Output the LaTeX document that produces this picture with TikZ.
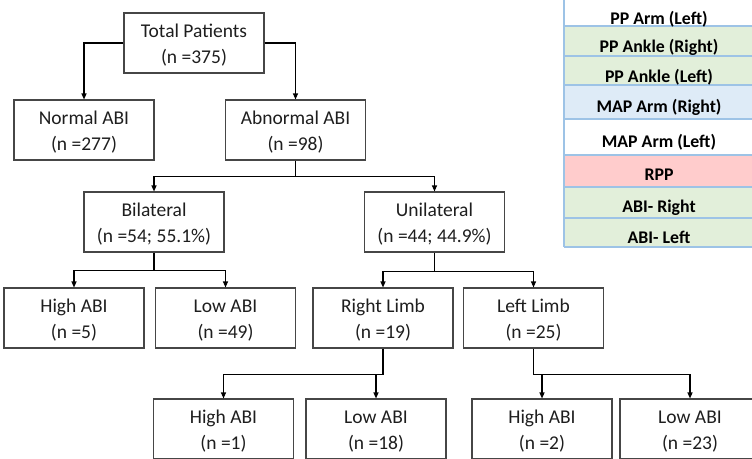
\documentclass[tikz,border=0pt]{standalone}
\usepackage{fontspec}
\setmainfont{Carlito}
\usetikzlibrary{arrows.meta,calc}
\definecolor{boxline}{RGB}{70,70,70}
\definecolor{txt}{RGB}{30,30,30}
\definecolor{tgreen}{RGB}{226,239,218}
\definecolor{tblue}{RGB}{222,235,247}
\definecolor{tpink}{RGB}{255,204,204}
\definecolor{tline}{RGB}{157,195,230}
\begin{document}
\begin{tikzpicture}[x=1pt,y=-1pt,
  box/.style={draw=boxline, line width=1.1pt, inner sep=0pt,
    minimum width=140pt, minimum height=60pt, align=center,
    text height=50pt, text depth=10pt, text=txt,
    font=\fontsize{19.5}{25.5}\selectfont},
  conn/.style={draw=black, line width=1.1pt, -{Triangle[length=6pt,width=5pt]}},
  plain/.style={draw=black, line width=1.1pt},
  tabtxt/.style={anchor=base, inner sep=0pt, text=black,
    font=\fontsize{17.8}{20}\selectfont\bfseries}]
\useasboundingbox (0,0) rectangle (752,458);

% ---- table ----
\begin{scope}
\clip (0,0) rectangle (752,458);
\fill[white]  (564,-10) rectangle (760,26);
\fill[tgreen] (564,26) rectangle (760,56);
\fill[tgreen] (564,56) rectangle (760,85);
\fill[tblue]  (564,85) rectangle (760,119);
\fill[white]  (564,119) rectangle (760,155);
\fill[tpink]  (564,155) rectangle (760,187);
\fill[tgreen] (564,187) rectangle (760,218);
\fill[tgreen] (564,218) rectangle (760,247);
\foreach \yy in {26,56,85,119,155,187,218,247}
  \draw[tline, line width=1.3pt] (564,\yy) -- (760,\yy);
\draw[tline, line width=1.3pt] (564,-10) -- (564,247);
\end{scope}
\node[tabtxt] (t1) at (659,24)  {PP Arm (Left)};
\node[tabtxt] (t2) at (659,52)  {PP Ankle (Right)};
\node[tabtxt] (t3) at (659,82)  {PP Ankle (Left)};
\node[tabtxt] (t4) at (659,112) {MAP Arm (Right)};
\node[tabtxt] (t5) at (659,147) {MAP Arm (Left)};
\node[tabtxt] (t6) at (659,180) {RPP};
\node[tabtxt] (t7) at (659,212) {ABI- Right};
\node[tabtxt] (t8) at (659,243) {ABI- Left};

% ---- boxes ----
\node[box] (total)  at (194,43)    {Total Patients\\(n =375)};
\node[box] (normal) at (84,130)    {Normal ABI\\(n =277)};
\node[box] (abn)    at (295.5,130) {Abnormal ABI\\(n =98)};
\node[box] (bil)    at (154,222)   {Bilateral\\(n =54; 55.1\%)};
\node[box] (uni)    at (434.5,222) {Unilateral\\(n =44; 44.9\%)};
\node[box] (hi1)    at (74,318)    {High ABI\\(n =5)};
\node[box] (lo1)    at (225.5,318) {Low ABI\\(n =49)};
\node[box] (rl)     at (383,318)   {Right Limb\\(n =19)};
\node[box] (ll)     at (533.5,318) {Left Limb\\(n =25)};
\node[box] (hi2)    at (223.5,429) {High ABI\\(n =1)};
\node[box] (lo2)    at (376,429)   {Low ABI\\(n =18)};
\node[box] (hi3)    at (542,429)   {High ABI\\(n =2)};
\node[box] (lo3)    at (690,429)   {Low ABI\\(n =23)};

% ---- connectors ----
\draw[conn] (total.west) -| (normal.north);
\draw[conn] (total.east) -| (abn.north);

\coordinate (j1) at ($(abn.south)+(0,16)$);
\draw[plain] (abn.south) -- (j1);
\draw[conn] (j1) -| (bil.north);
\draw[conn] (j1) -| (uni.north);

\coordinate (j2) at ($(bil.south)+(0,18)$);
\draw[plain] (bil.south) -- (j2);
\draw[conn] (j2) -| (hi1.north);
\draw[conn] (j2) -| (lo1.north);

\coordinate (j3) at ($(uni.south)+(0,19)$);
\draw[plain] (uni.south) -- (j3);
\draw[conn] (j3) -| (rl.north);
\draw[conn] (j3) -| (ll.north);

\coordinate (j4) at ($(rl.south)+(0,26)$);
\draw[plain] (rl.south) -- (j4);
\draw[conn] (j4) -| (hi2.north);
\draw[conn] (j4) -| (lo2.north);

\coordinate (j5) at ($(ll.south)+(0,26)$);
\draw[plain] (ll.south) -- (j5);
\draw[conn] (j5) -| (hi3.north);
\draw[conn] (j5) -| (lo3.north);
\end{tikzpicture}
\end{document}
